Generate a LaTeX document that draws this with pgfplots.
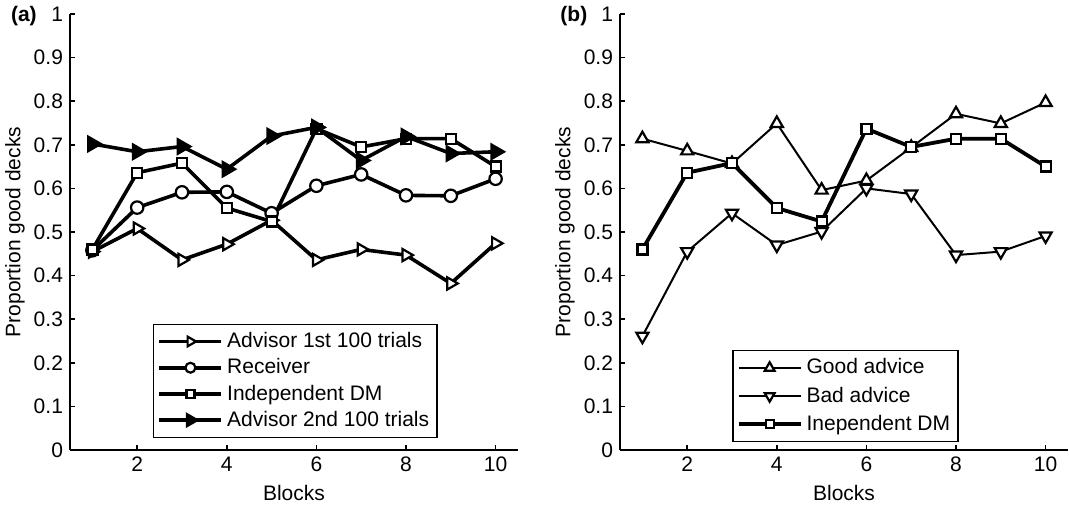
\documentclass[border=0pt]{standalone}
\usepackage{fontspec}
\setmainfont{Liberation Sans}
\usepackage{pgfplots}
\pgfplotsset{compat=1.18}

\newcommand\figfont{\fontsize{10.5}{12.6}\selectfont}

\pgfplotsset{
  panel/.style={
    scale only axis, width=224pt, height=218pt,
    xmin=0.5, xmax=10.5, ymin=0, ymax=1,
    axis x line*=bottom, axis y line*=left,
    axis line style={line width=1pt},
    xtick={2,4,6,8,10},
    ytick={0,0.1,0.2,0.3,0.4,0.5,0.6,0.7,0.8,0.9,1},
    tick align=inside, major tick length=2.5pt,
    tick style={line width=0.8pt, black},
    /pgf/number format/assume math mode=true,
    yticklabel style={/pgf/number format/fixed, /pgf/number format/precision=1},
    tick label style={font=\figfont},
    label style={font=\figfont},
    xlabel={Blocks}, ylabel={Proportion good decks},
    ylabel style={at={(rel axis cs:0,0.5)}, yshift=27.5pt, anchor=center},
    clip=false,
    legend cell align=left,
    legend image code/.code={
      \draw[mark repeat=2, mark phase=2, every mark/.append style={scale=0.8}]
        plot coordinates {(0pt,0pt) (15.5pt,0pt) (31pt,0pt)};},
  },
}

\pgfplotstableread{
block adv1  recv  indep adv2
1     0.455 0.458 0.460 0.702
2     0.508 0.556 0.636 0.684
3     0.436 0.591 0.658 0.696
4     0.472 0.592 0.555 0.644
5     0.527 0.543 0.524 0.720
6     0.436 0.606 0.737 0.740
7     0.460 0.632 0.695 0.664
8     0.447 0.584 0.714 0.719
9     0.382 0.583 0.714 0.680
10    0.474 0.622 0.650 0.684
}\panelA

\pgfplotstableread{
block good  bad   indep
1     0.714 0.261 0.460
2     0.686 0.455 0.636
3     0.657 0.543 0.658
4     0.749 0.470 0.555
5     0.596 0.501 0.524
6     0.618 0.600 0.737
7     0.694 0.587 0.695
8     0.771 0.447 0.714
9     0.749 0.455 0.714
10    0.797 0.491 0.650
}\panelB

\begin{document}
\begin{tikzpicture}
\useasboundingbox (0,0) rectangle (534.5pt,253pt);

% Panel (a)
\begin{axis}[panel, at={(35pt,28pt)}, anchor=south west,
  legend style={at={(rel axis cs:0.185,0.0275)}, anchor=south west,
    draw=black, line width=0.75pt, font=\figfont,
    row sep=0pt, inner sep=2pt}]
  \addplot[black, line width=1.8pt, mark=triangle*, mark size=3.5pt,
    mark options={solid, fill=white, line width=1.1pt, rotate=-90}]
    table[x=block, y=adv1] {\panelA};
  \addlegendentry{Advisor 1st 100 trials}
  \addplot[black, line width=1.8pt, mark=*, mark size=3.1pt,
    mark options={solid, fill=white, line width=1.1pt}]
    table[x=block, y=recv] {\panelA};
  \addlegendentry{Receiver}
  \addplot[black, line width=1.8pt, mark=square*, mark size=2.5pt,
    mark options={solid, fill=white, line width=1.1pt}]
    table[x=block, y=indep] {\panelA};
  \addlegendentry{Independent DM}
  \addplot[black, line width=1.8pt, mark=triangle*, mark size=3.5pt,
    mark options={solid, fill=black, rotate=-90}]
    table[x=block, y=adv2] {\panelA};
  \addlegendentry{Advisor 2nd 100 trials}
  \node[font=\bfseries\figfont] at (rel axis cs:-0.103,0.995) {(a)};
\end{axis}

% Panel (b)
\begin{axis}[panel, at={(310pt,28pt)}, anchor=south west,
  legend style={at={(rel axis cs:0.25,0.018)}, anchor=south west,
    draw=black, line width=0.75pt, font=\figfont,
    row sep=1pt, inner sep=2pt}]
  \addplot[black, line width=1pt, mark=triangle*, mark size=3.5pt,
    mark options={solid, fill=white, line width=1.1pt}]
    table[x=block, y=good] {\panelB};
  \addlegendentry{Good advice}
  \addplot[black, line width=1pt, mark=triangle*, mark size=3.5pt,
    mark options={solid, fill=white, line width=1.1pt, rotate=180}]
    table[x=block, y=bad] {\panelB};
  \addlegendentry{Bad advice}
  \addplot[black, line width=1.9pt, mark=square*, mark size=2.5pt,
    mark options={solid, fill=white, line width=1.1pt}]
    table[x=block, y=indep] {\panelB};
  \addlegendentry{Inependent DM}
  \node[font=\bfseries\figfont] at (rel axis cs:-0.103,0.995) {(b)};
\end{axis}
\end{tikzpicture}
\end{document}
